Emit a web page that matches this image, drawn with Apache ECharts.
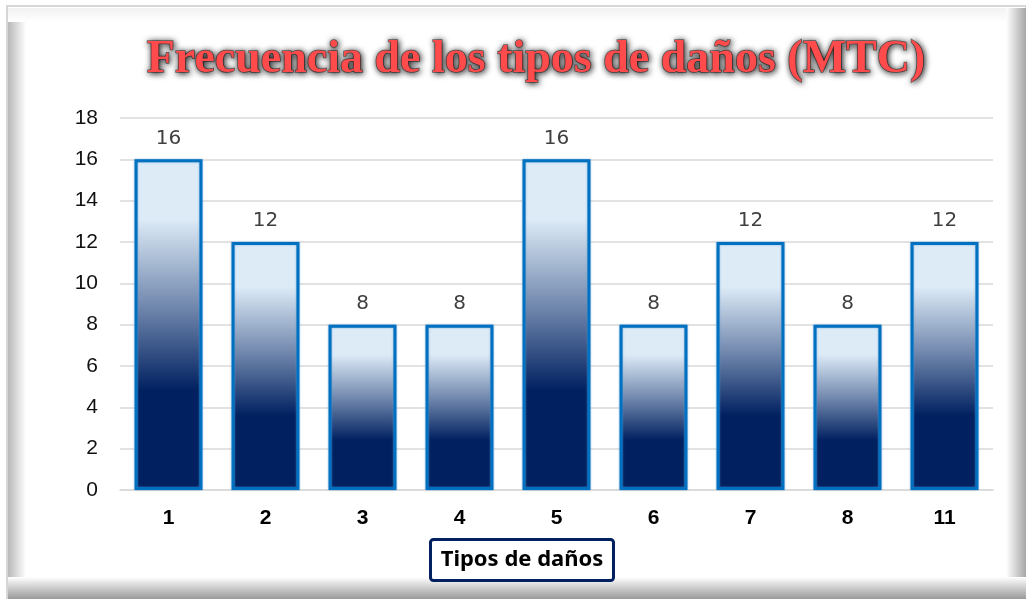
<!DOCTYPE html>
<html>
<head>
<meta charset="utf-8">
<script src="https://cdn.jsdelivr.net/npm/echarts@6/dist/echarts.min.js"></script>
<style>html,body{margin:0;padding:0;background:#fff}#c{width:1026px;height:599px}</style>
</head>
<body>
<div id="c"></div>
<script>
const categories = ['1','2','3','4','5','6','7','8','11'];
const values = [16,12,8,8,16,8,12,8,12];
const yTicks = [0,2,4,6,8,10,12,14,16,18];
const titleText = 'Frecuencia de los tipos de daños (MTC)';
const axisTitle = 'Tipos de daños';

const chart = echarts.init(document.getElementById('c'));
const barGrad = new echarts.graphic.LinearGradient(0,0,0,1,[
  {offset:0,color:'#DDEBF7'},
  {offset:0.18,color:'#DDEBF7'},
  {offset:0.45,color:'#6F86AC'},
  {offset:0.70,color:'#002060'},
  {offset:1,color:'#002060'}
]);
chart.setOption({
  animation:false,
  backgroundColor:'#fff',
  graphic:[
    {type:'rect',shape:{x:7,y:6,width:1019,height:593},style:{fill:'none',stroke:'#d6d6d6',lineWidth:2},z:-10},
    {type:'rect',shape:{x:8,y:8,width:18,height:591},style:{fill:new echarts.graphic.LinearGradient(0,0,1,0,[{offset:0,color:'#b8b8b8'},{offset:1,color:'#ffffff'}])},z:-9},
    {type:'rect',shape:{x:8,y:8,width:1018,height:14},style:{fill:new echarts.graphic.LinearGradient(0,0,0,1,[{offset:0,color:'#f2f2f2'},{offset:1,color:'#ffffff'}])},z:-9},
    {type:'rect',shape:{x:1006,y:8,width:20,height:591},style:{fill:new echarts.graphic.LinearGradient(0,0,1,0,[{offset:0,color:'#ffffff'},{offset:1,color:'#a6a6a6'}])},z:-9},
    {type:'rect',shape:{x:8,y:577,width:1018,height:22},style:{fill:new echarts.graphic.LinearGradient(0,0,0,1,[{offset:0,color:'#ffffff'},{offset:1,color:'#9a9a9a'}])},z:-9}
  ],
  title:[
    {text:titleText,left:531,top:32,textAlign:'center',
     textStyle:{fontFamily:'Liberation Serif',fontWeight:'bold',fontSize:46,color:'#FF4B4B',
       textBorderColor:'rgba(0,0,0,0.55)',textBorderWidth:1.5,
       textShadowColor:'#000',textShadowBlur:6,textShadowOffsetX:1,textShadowOffsetY:1}},
    {text:axisTitle,left:512,top:539,textAlign:'center',backgroundColor:'#fff',
     borderColor:'#002060',borderWidth:3,borderRadius:3,padding:[10,10,10,10],
     textStyle:{fontFamily:'Noto Sans',fontWeight:'bold',fontSize:22,color:'#000'}}
  ],
  grid:{left:120,right:33,top:118,bottom:109},
  xAxis:{type:'category',data:categories,
    axisLine:{lineStyle:{color:'#d9d9d9',width:1.5}},axisTick:{show:false},
    axisLabel:{fontFamily:'Liberation Sans',fontWeight:'bold',fontSize:21,color:'#000',margin:18}},
  yAxis:{type:'value',min:0,max:18,interval:2,
    axisLine:{show:false},axisTick:{show:false},
    splitLine:{lineStyle:{color:'#d9d9d9',width:1.5}},
    axisLabel:{fontFamily:'Liberation Sans',fontSize:21,color:'#111',margin:22,
      formatter:v=>yTicks.includes(v)?String(v):''}},
  series:[{type:'bar',data:values,barCategoryGap:'30%',
    itemStyle:{color:barGrad,borderColor:'#0070C0',borderWidth:3,
      shadowColor:'rgba(91,155,213,0.8)',shadowBlur:2},
    label:{show:true,position:'top',distance:11,fontFamily:'DejaVu Sans',fontSize:20,color:'#404040'}}]
});
</script>
</body>
</html>
